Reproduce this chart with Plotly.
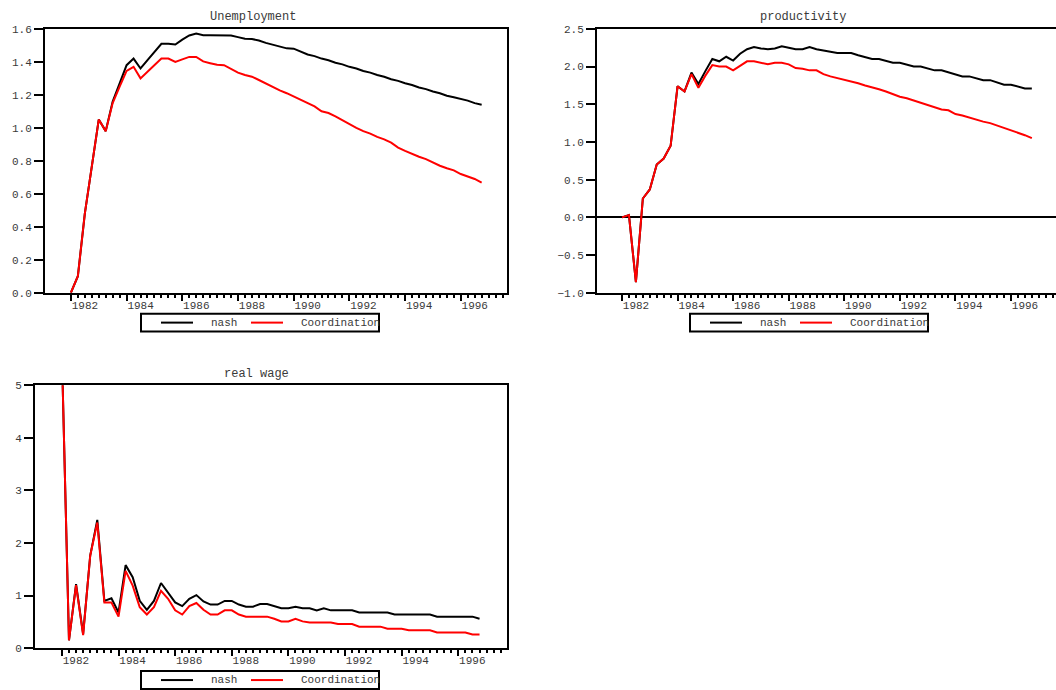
import plotly.graph_objects as go

# ---------------- data (quarterly, 1982Q1 .. 1996Q4) ----------------
start_year = 1982
n_quarters = 60
quarters = [start_year + i / 4 for i in range(n_quarters)]

unemp_nash = [0.0, 0.1, 0.48, 0.78, 1.05, 0.98, 1.16, 1.27, 1.38, 1.42,
              1.36, 1.41, 1.46, 1.51, 1.51, 1.505, 1.535, 1.56, 1.572, 1.562,
              1.562, 1.562, 1.562, 1.56, 1.55, 1.54, 1.538, 1.53, 1.515, 1.505,
              1.495, 1.482, 1.48, 1.46, 1.445, 1.435, 1.42, 1.41, 1.395, 1.385,
              1.37, 1.36, 1.345, 1.335, 1.32, 1.31, 1.295, 1.285, 1.27, 1.26,
              1.245, 1.235, 1.22, 1.21, 1.195, 1.185, 1.175, 1.165, 1.15, 1.14]
unemp_coord = [0.0, 0.1, 0.48, 0.78, 1.05, 0.98, 1.15, 1.25, 1.345, 1.37,
               1.30, 1.34, 1.38, 1.42, 1.42, 1.40, 1.415, 1.43, 1.43, 1.403,
               1.392, 1.382, 1.38, 1.355, 1.335, 1.32, 1.31, 1.29, 1.268, 1.25,
               1.227, 1.21, 1.19, 1.17, 1.153, 1.13, 1.10, 1.09, 1.07, 1.045,
               1.02, 1.00, 0.98, 0.965, 0.945, 0.93, 0.91, 0.88, 0.86, 0.84,
               0.825, 0.81, 0.79, 0.77, 0.755, 0.742, 0.72, 0.707, 0.69, 0.668]

prod_nash = [0.0, 0.03, -0.86, 0.25, 0.37, 0.70, 0.78, 0.95, 1.74, 1.67,
             1.92, 1.77, 1.94, 2.10, 2.07, 2.13, 2.08, 2.17, 2.23, 2.26,
             2.24, 2.23, 2.24, 2.27, 2.25, 2.23, 2.23, 2.26, 2.23, 2.21,
             2.20, 2.18, 2.18, 2.18, 2.15, 2.12, 2.10, 2.10, 2.08, 2.05,
             2.05, 2.03, 2.00, 2.00, 1.97, 1.95, 1.95, 1.92, 1.90, 1.87,
             1.87, 1.84, 1.82, 1.82, 1.79, 1.76, 1.76, 1.74, 1.71, 1.71]
prod_coord = [0.0, 0.03, -0.86, 0.25, 0.37, 0.70, 0.78, 0.95, 1.74, 1.67,
              1.90, 1.72, 1.88, 2.02, 2.00, 2.00, 1.95, 2.01, 2.07, 2.07,
              2.05, 2.03, 2.05, 2.05, 2.03, 1.98, 1.97, 1.95, 1.95, 1.90,
              1.87, 1.85, 1.83, 1.80, 1.78, 1.75, 1.73, 1.70, 1.67, 1.63,
              1.60, 1.58, 1.55, 1.53, 1.50, 1.47, 1.43, 1.42, 1.37, 1.35,
              1.32, 1.30, 1.27, 1.25, 1.22, 1.19, 1.16, 1.13, 1.09, 1.05]

wage_nash = [5.6, 0.15, 1.22, 0.27, 1.76, 2.44, 0.90, 0.95, 0.68, 1.58,
             1.35, 0.90, 0.73, 0.90, 1.24, 1.06, 0.87, 0.80, 0.94, 1.01,
             0.89, 0.83, 0.83, 0.90, 0.90, 0.83, 0.79, 0.79, 0.84, 0.84,
             0.80, 0.76, 0.76, 0.79, 0.76, 0.76, 0.72, 0.76, 0.72, 0.72,
             0.72, 0.72, 0.68, 0.68, 0.68, 0.68, 0.68, 0.64, 0.64, 0.64,
             0.64, 0.64, 0.64, 0.60, 0.60, 0.60, 0.60, 0.60, 0.60, 0.56]
wage_coord = [5.6, 0.15, 1.20, 0.25, 1.76, 2.39, 0.87, 0.87, 0.60, 1.47,
              1.19, 0.78, 0.64, 0.78, 1.09, 0.94, 0.72, 0.64, 0.80, 0.86,
              0.73, 0.64, 0.64, 0.72, 0.72, 0.64, 0.60, 0.60, 0.60, 0.60,
              0.56, 0.51, 0.51, 0.56, 0.51, 0.49, 0.49, 0.49, 0.49, 0.46,
              0.46, 0.46, 0.41, 0.41, 0.41, 0.41, 0.37, 0.37, 0.37, 0.34,
              0.34, 0.34, 0.34, 0.30, 0.30, 0.30, 0.30, 0.30, 0.26, 0.26]

titles = ["Unemployment", "productivity", "real wage"]
series_names = ["nash", "Coordination"]
year_ticks = list(range(1982, 1998))
year_labels = [str(y) if y % 2 == 0 and y <= 1996 else "" for y in year_ticks]
quarter_ticks = [1982 + k / 4 for k in range(64)]

# ---------------- layout helpers ----------------
W, H = 1056, 690          # reference picture size (layout positions are given in it)
FIG_H = 699               # the captured page area is slightly taller than the picture
FONT = "Liberation Mono"
TXT = "#3a3a3a"


def px(x):
    return x / W


def py(y):
    return 1 - y / H


fig = go.Figure()

panels = [
    ("x", "y", unemp_nash, unemp_coord),
    ("x2", "y2", prod_nash, prod_coord),
    ("x3", "y3", wage_nash, wage_coord),
]
for xa, ya, nash, coord in panels:
    fig.add_trace(go.Scatter(x=quarters, y=nash, mode="lines", name=series_names[0],
                             line=dict(color="#000000", width=2), xaxis=xa, yaxis=ya,
                             showlegend=False))
    fig.add_trace(go.Scatter(x=quarters, y=coord, mode="lines", name=series_names[1],
                             line=dict(color="#ff0000", width=2), xaxis=xa, yaxis=ya,
                             showlegend=False))


def xaxis_cfg(domain, rng, mirror=True):
    return dict(
        domain=domain, range=rng, showgrid=False, zeroline=False,
        showline=True, linecolor="black", linewidth=2, mirror=mirror,
        tickmode="array", tickvals=year_ticks, ticktext=year_labels,
        ticks="outside", ticklen=6, tickwidth=1.5, tickcolor="black",
        ticklabelshift=14, ticklabelstandoff=-5,
        minor=dict(tickvals=quarter_ticks, ticks="outside", ticklen=3,
                   tickwidth=1.5, tickcolor="black"),
        tickfont=dict(family=FONT, size=11, color=TXT),
        fixedrange=True,
    )


def yaxis_cfg(domain, rng, dtick, fmt, anchor, mirror=True, zeroline=False):
    return dict(
        domain=domain, range=rng, showgrid=False, anchor=anchor,
        zeroline=zeroline, zerolinecolor="black", zerolinewidth=2,
        showline=True, linecolor="black", linewidth=2, mirror=mirror,
        tick0=0, dtick=dtick, tickformat=fmt,
        ticks="outside", ticklen=9, tickwidth=2, tickcolor="black",
        tickfont=dict(family=FONT, size=11, color=TXT),
        fixedrange=True,
    )


top_dom = [py(289), py(24)]
bot_dom = [py(646), py(382)]

fig.update_layout(
    width=W, height=FIG_H,
    margin=dict(l=0, r=0, t=0, b=0),
    paper_bgcolor="white", plot_bgcolor="white",
    xaxis=dict(xaxis_cfg([px(45), px(507)], [1981.07, 1997.66]), anchor="y"),
    yaxis=yaxis_cfg(top_dom, [0, 1.6], 0.2, ".1f", "x"),
    xaxis2=dict(xaxis_cfg([px(597), 1.0], [1981.10, 1997.62]), anchor="y2"),
    yaxis2=yaxis_cfg(top_dom, [-1.0, 2.5], 0.5, ".1f", "x2", mirror=False, zeroline=True),
    xaxis3=dict(xaxis_cfg([px(35), px(507)], [1981.05, 1997.72]), anchor="y3"),
    yaxis3=yaxis_cfg(bot_dom, [0, 5], 1, "d", "x3"),
)

annotations = []
shapes = []

# titles
for text, cx, cy in [(titles[0], 253, 12), (titles[1], 803, 12), (titles[2], 256, 371)]:
    annotations.append(dict(text=text, x=px(cx), y=py(cy), xref="paper", yref="paper",
                            showarrow=False, xanchor="center", yanchor="middle",
                            font=dict(family=FONT, size=12, color=TXT)))

# legends (one under each panel)
for bx, by in [(141, 310), (690, 310), (141, 669)]:
    bw, bh = 238, 18
    shapes.append(dict(type="rect", xref="paper", yref="paper",
                       x0=px(bx), x1=px(bx + bw), y0=py(by + bh), y1=py(by),
                       line=dict(color="black", width=2), fillcolor="rgba(0,0,0,0)"))
    cy = by + bh / 2
    shapes.append(dict(type="line", xref="paper", yref="paper",
                       x0=px(bx + 20), x1=px(bx + 52), y0=py(cy), y1=py(cy),
                       line=dict(color="black", width=2)))
    shapes.append(dict(type="line", xref="paper", yref="paper",
                       x0=px(bx + 110), x1=px(bx + 142), y0=py(cy), y1=py(cy),
                       line=dict(color="#ff0000", width=2)))
    annotations.append(dict(text=series_names[0], x=px(bx + 68), y=py(cy), xref="paper",
                            yref="paper", showarrow=False, xanchor="left", yanchor="middle",
                            font=dict(family=FONT, size=11, color=TXT)))
    annotations.append(dict(text=series_names[1], x=px(bx + 158), y=py(cy), xref="paper",
                            yref="paper", showarrow=False, xanchor="left", yanchor="middle",
                            font=dict(family=FONT, size=11, color=TXT)))

fig.update_layout(annotations=annotations, shapes=shapes)

post = (
    "document.documentElement.style.overflow='hidden';"
    "document.body.style.margin='0';"
    "document.body.style.overflow='hidden';"
)
fig.write_html("out.html", config={"displayModeBar": False}, post_script=post)
